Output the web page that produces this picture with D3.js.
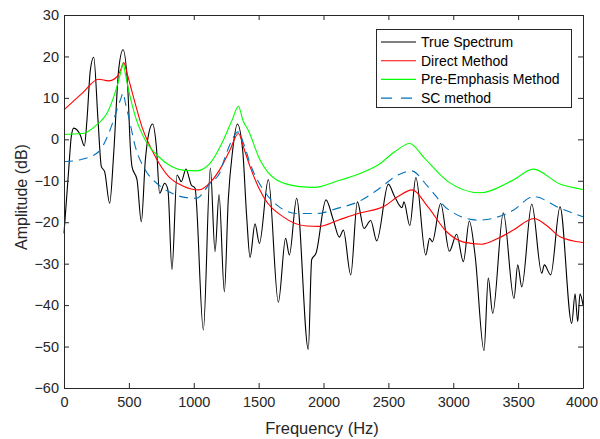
<!DOCTYPE html>
<html>
<head>
<meta charset="utf-8">
<script src="https://cdn.jsdelivr.net/npm/d3@7"></script>
<style>
  body { margin: 0; background: #fff; }
  svg text { font-family: "Liberation Sans", Arial, sans-serif; }
</style>
</head>
<body>
<svg id="svg" width="600" height="439"></svg>
<script>
// frequency (Hz), amplitude (dB)
const trueSpectrum = [
  [0,-22.7],[36,-7.4],[56,0.6],[75,2.7],[126,1.0],[157,-1.6],[177,4.7],[203,16.7],[229,19.8],
  [262,4.7],[288,-6.6],[313,-7.8],[352,-15.4],[383,-3.4],[421,16.7],[455,21.6],[491,12.7],
  [511,-1.8],[524,-6.6],[563,-9.8],[596,-19.9],[627,-5.0],[653,1.4],[683,3.7],[712,-1.8],
  [737,-13.0],[776,-10.6],[801,-12.2],[832,-31.4],[871,-8.6],[904,-10.2],[940,-7.2],
  [981,-11.0],[1010,-11.8],[1074,-46.0],[1128,-6.9],[1164,-27.1],[1195,-13.3],[1236,-36.8],
  [1266,-14.6],[1300,-2.6],[1336,3.7],[1377,-2.6],[1408,-18.7],[1434,-28.5],[1472,-20.4],
  [1506,-25.1],[1575,-9.7],[1652,-39.3],[1708,-23.9],[1737,-27.9],[1793,-14.2],[1883,-50.7],
  [1909,-29.0],[1942,-27.5],[2019,-14.6],[2076,-19.5],[2122,-23.6],[2153,-21.9],[2210,-32.7],
  [2261,-15.1],[2312,-21.5],[2364,-19.6],[2410,-24.5],[2500,-10.8],[2545,-13.6],[2605,-16.5],
  [2620,-15.1],[2665,-20.8],[2712,-9.2],[2788,-27.9],[2818,-23.9],[2839,-24.7],[2903,-15.5],
  [2970,-27.0],[3026,-22.9],[3078,-29.5],[3124,-19.7],[3168,-27.9],[3237,-51.0],[3270,-33.5],
  [3304,-42.0],[3386,-17.7],[3468,-38.4],[3497,-30.3],[3528,-35.6],[3605,-15.6],[3682,-32.3],
  [3702,-30.3],[3751,-32.7],[3823,-16.3],[3913,-44.4],[3939,-37.3],[3959,-44.0],[3977,-37.3],
  [4000,-40.0]
];

const directMethod = [
  [0,7.1],[139,11.1],[267,14.5],[344,14.1],[408,15.1],[440,17.0],[460,18.5],[490,15.5],
  [524,11.5],[601,3.0],[704,-4.2],[807,-9.0],[920,-11.3],[1035,-12.2],[1130,-10.3],
  [1228,-5.8],[1280,-2.5],[1344,1.4],[1390,-2.5],[1434,-6.6],[1536,-13.8],[1690,-18.7],
  [1870,-20.9],[1965,-21.0],[2112,-19.5],[2266,-17.9],[2471,-16.1],[2574,-13.8],[2684,-12.2],
  [2805,-16.3],[2949,-22.3],[3080,-24.8],[3219,-25.3],[3350,-23.8],[3463,-21.9],[3622,-19.1],
  [3720,-20.8],[3823,-23.5],[4000,-24.9]
];

const preEmphasis = [
  [0,1.2],[139,1.4],[241,3.2],[344,7.1],[408,12.7],[440,16.5],[455,18.3],[475,15.5],
  [498,11.9],[550,5.5],[627,-0.2],[730,-4.2],[832,-6.6],[930,-7.5],[1022,-7.6],[1125,-5.8],
  [1228,-0.2],[1300,5.0],[1344,8.0],[1380,4.5],[1420,2.2],[1511,-5.0],[1639,-9.8],
  [1819,-11.4],[1930,-11.6],[2112,-10.0],[2266,-8.4],[2420,-6.2],[2549,-3.0],[2664,-1.0],
  [2780,-4.6],[2960,-10.2],[3206,-12.9],[3463,-9.8],[3617,-7.2],[3823,-10.8],[4000,-12.1]
];

const scMethod = [
  [0,-5.4],[139,-4.8],[267,-3.0],[344,1.4],[408,7.1],[440,10.0],[455,11.2],[475,8.5],
  [498,5.5],[550,-1.8],[627,-7.4],[730,-11.0],[832,-13.0],[930,-14.0],[1022,-14.2],
  [1125,-10.6],[1202,-8.0],[1228,-5.5],[1290,-0.5],[1340,1.8],[1390,-1.5],[1434,-5.8],
  [1536,-12.2],[1639,-15.8],[1793,-17.9],[1950,-17.9],[2112,-16.6],[2266,-15.1],[2420,-12.1],
  [2574,-8.6],[2677,-7.6],[2805,-11.4],[2960,-16.9],[3193,-19.5],[3463,-17.1],[3617,-13.8],
  [3823,-16.6],[4000,-18.7]
];

const xTicks = [0, 500, 1000, 1500, 2000, 2500, 3000, 3500, 4000];
const yTicks = [30, 20, 10, 0, -10, -20, -30, -40, -50, -60];

const seriesNames = ["True Spectrum", "Direct Method", "Pre-Emphasis Method", "SC method"];

const svg = d3.select("#svg");
const plotLeft = 64, plotRight = 583, plotTop = 15, plotBottom = 388;
const axisColor = "#262626";

const x = d3.scaleLinear().domain([0, 4000]).range([plotLeft, plotRight]);
const y = d3.scaleLinear().domain([-60, 30]).range([plotBottom, plotTop]);

const series = [
  { name: seriesNames[0], data: trueSpectrum, color: "#000000", dash: null },
  { name: seriesNames[1], data: directMethod, color: "#ff0000", dash: null },
  { name: seriesNames[2], data: preEmphasis, color: "#00ff00", dash: null },
  { name: seriesNames[3], data: scMethod, color: "#0072bd", dash: "9,6" }
];

const line = d3.line()
  .x(d => x(d[0]))
  .y(d => y(d[1]))
  .curve(d3.curveMonotoneX);

const plot = svg.append("g");
series.forEach(s => {
  plot.append("path")
    .datum(s.data)
    .attr("fill", "none")
    .attr("stroke", s.color)
    .attr("stroke-width", 1.1)
    .attr("stroke-dasharray", s.dash)
    .attr("d", line);
});

// axes, ticks inside like matlab
const tickLen = 5;
const fmt = d3.format("d");
const xAxis = svg.append("g")
  .attr("transform", `translate(0, ${plotBottom})`)
  .call(d3.axisBottom(x).tickValues(xTicks).tickFormat(fmt).tickSizeInner(-tickLen).tickSizeOuter(0).tickPadding(16));
const xTop = svg.append("g")
  .attr("transform", `translate(0, ${plotTop})`)
  .call(d3.axisTop(x).tickValues(xTicks).tickSizeInner(-tickLen).tickSizeOuter(0).tickFormat(""));
const yAxis = svg.append("g")
  .attr("transform", `translate(${plotLeft}, 0)`)
  .call(d3.axisLeft(y).tickValues(yTicks).tickFormat(fmt).tickSizeInner(-tickLen).tickSizeOuter(0).tickPadding(5));
const yRight = svg.append("g")
  .attr("transform", `translate(${plotRight}, 0)`)
  .call(d3.axisRight(y).tickValues(yTicks).tickSizeInner(-tickLen).tickSizeOuter(0).tickFormat(""));

[xAxis, xTop, yAxis, yRight].forEach(g => {
  g.select(".domain").attr("stroke", axisColor);
  g.selectAll(".tick line").attr("stroke", axisColor);
  g.selectAll(".tick text")
    .attr("fill", axisColor)
    .style("font-size", "14.5px")
    .style("font-family", "'Liberation Sans', Arial, sans-serif");
});
xAxis.selectAll(".tick text").attr("dy", "0.2em");
// last label sits against the right edge, as in the picture
xAxis.selectAll(".tick text").filter(d => d === 4000).attr("dx", "-0.1em");

svg.append("text")
  .attr("x", 322)
  .attr("y", 434)
  .attr("text-anchor", "middle")
  .attr("fill", axisColor)
  .style("font-size", "16.5px")
  .text("Frequency (Hz)");

svg.append("text")
  .attr("transform", "translate(27, 197) rotate(-90)")
  .attr("text-anchor", "middle")
  .attr("fill", axisColor)
  .style("font-size", "16px")
  .text("Amplitude (dB)");

// legend
const legend = svg.append("g");
legend.append("rect")
  .attr("x", 376.5).attr("y", 29.5)
  .attr("width", 195).attr("height", 78)
  .attr("fill", "#fff")
  .attr("stroke", axisColor)
  .attr("stroke-width", 1);

series.forEach((s, i) => {
  const ly = 42 + i * 18.7;
  legend.append("line")
    .attr("x1", 381).attr("x2", 416)
    .attr("y1", ly).attr("y2", ly)
    .attr("stroke", s.color)
    .attr("stroke-width", 1.1)
    .attr("stroke-dasharray", s.dash ? "11,9" : null);
  legend.append("text")
    .attr("x", 421)
    .attr("y", ly)
    .attr("dy", "0.36em")
    .attr("fill", "#000")
    .style("font-size", "14px")
    .text(s.name);
});
</script>
</body>
</html>
